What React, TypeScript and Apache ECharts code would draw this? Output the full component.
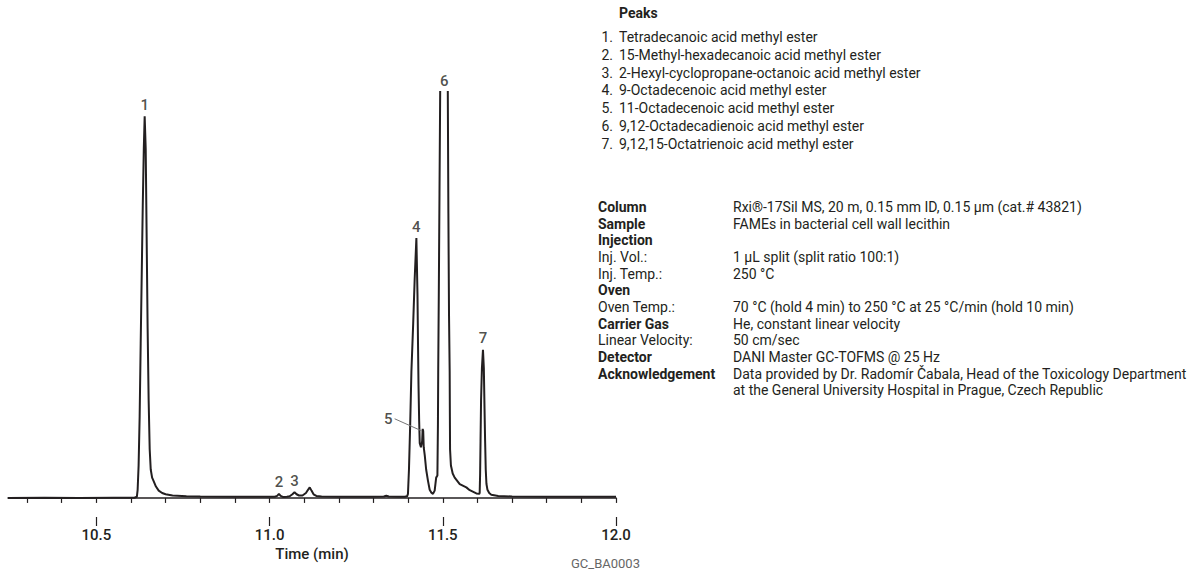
import React, { useEffect, useRef } from "react";
import * as echarts from "echarts";

// ---- data ----
const TRACE_TIME = [
  10.245, 10.35, 10.45, 10.55, 10.61, 10.617,
  10.6192, 10.622, 10.625, 10.628, 10.631, 10.634, 10.637, 10.6395, 10.6425, 10.645, 10.648, 10.651,
  10.654, 10.657, 10.661, 10.666, 10.672, 10.68, 10.69, 10.70, 10.72, 10.76, 10.80, 10.90, 10.98, 11.015,
  11.022, 11.027, 11.032, 11.04, 11.05, 11.058,
  11.066, 11.072, 11.078, 11.085, 11.095, 11.105,
  11.111, 11.116, 11.121, 11.127, 11.135, 11.15, 11.20, 11.30, 11.33, 11.337, 11.344, 11.37, 11.39, 11.397,
  11.3995, 11.4024, 11.4059, 11.4094, 11.4146, 11.4189, 11.4238, 11.427, 11.4285, 11.4299, 11.4318, 11.4335,
  11.437, 11.4405, 11.442, 11.4435, 11.445, 11.448, 11.452, 11.4573, 11.4622, 11.4671, 11.4717, 11.4766, 11.4809,
  11.4845, 11.486, 11.4868, 11.4885, 11.4905, 11.4925, 11.4945, 11.496,
  11.512, 11.5135, 11.5145, 11.5162, 11.518, 11.5199, 11.5205, 11.521, 11.5235, 11.5286, 11.5344, 11.5489,
  11.568, 11.5778, 11.597, 11.6051,
  11.6065, 11.6078, 11.609, 11.6105, 11.613, 11.616, 11.6185, 11.6205, 11.6222, 11.624, 11.626, 11.629, 11.634,
  11.64, 11.66, 11.70, 11.80, 11.90, 12.0,
];
const TRACE_SIGNAL = [
  0.0, 0.05, 0.0, 0.05, 0.05, 0.3,
  2, 8, 20, 38, 55, 72, 86, 94, 86, 66, 42, 24,
  12, 7, 5, 4, 2.8, 1.8, 1.2, 0.9, 0.6, 0.4, 0.35, 0.3, 0.3, 0.3,
  0.5, 1.0, 0.5, 0.2, 0.3, 0.4,
  0.9, 1.4, 0.9, 0.6, 0.6, 1.2,
  2.0, 2.6, 1.8, 0.9, 0.5, 0.35, 0.3, 0.3, 0.35, 0.55, 0.35, 0.3, 0.3, 0.4,
  1, 7, 18, 31, 43, 54, 64, 50, 38, 28, 19, 13.5,
  12.5, 14, 17, 16.5, 12.5, 10.5, 7, 4.2, 2, 1.3, 1.0, 1.8, 5,
  5.5, 18, 31, 50, 75, 100, 130, 150,
  150, 130, 100, 70, 45, 31, 20, 12, 8, 6, 5, 3.4,
  2.6, 1.9, 1.1, 1.0,
  1.2, 6, 14, 24, 32, 36.5, 32, 22, 14, 7, 3.5, 2, 1.2,
  0.8, 0.5, 0.35, 0.3, 0.3, 0.3,
];

const PEAK_LABEL_TEXT = ["1", "2", "3", "4", "6", "7"];
const PEAK_LABEL_TIME = [10.6395, 11.027, 11.072, 11.4238, 11.504, 11.616];
const PEAK_LABEL_SIGNAL = [94, 1.0, 1.4, 64, 100, 36.5];

const PEAK5_LEADER_TIME = [11.361, 11.4395];
const PEAK5_LEADER_SIGNAL = [19.5, 16.5];

const MINOR_TICKS = [10.3, 10.4, 10.5, 10.6, 10.7, 10.8, 10.9, 11.0, 11.1, 11.2, 11.3, 11.4, 11.5, 11.6, 11.7, 11.8, 11.9, 12.0];
const MAJOR_TICKS = [10.5, 11.0, 11.5, 12.0];

const PEAK_NAMES = [
  "Tetradecanoic acid methyl ester",
  "15-Methyl-hexadecanoic acid methyl ester",
  "2-Hexyl-cyclopropane-octanoic acid methyl ester",
  "9-Octadecenoic acid methyl ester",
  "11-Octadecenoic acid methyl ester",
  "9,12-Octadecadienoic acid methyl ester",
  "9,12,15-Octatrienoic acid methyl ester",
];

const COND_LABELS = [
  "Column", "Sample", "Injection", "Inj. Vol.:", "Inj. Temp.:", "Oven", "Oven Temp.:",
  "Carrier Gas", "Linear Velocity:", "Detector", "Acknowledgement", "",
];
const COND_BOLD = [true, true, true, false, false, true, false, true, false, true, true, false];
const COND_VALUES = [
  "Rxi®-17Sil MS, 20 m, 0.15 mm ID, 0.15 µm (cat.# 43821)",
  "FAMEs in bacterial cell wall lecithin",
  "",
  "1 µL split (split ratio 100:1)",
  "250 °C",
  "",
  "70 °C (hold 4 min) to 250 °C at 25 °C/min (hold 10 min)",
  "He, constant linear velocity",
  "50 cm/sec",
  "DANI Master GC-TOFMS @ 25 Hz",
  "Data provided by Dr. Radomír Čabala, Head of the Toxicology Department",
  "at the General University Hospital in Prague, Czech Republic",
];

const FONT = "Roboto, 'Noto Sans', sans-serif";
const INK = "#231f20";

export default function App() {
  const ref = useRef<HTMLDivElement>(null);
  useEffect(() => {
    if (!ref.current) return;
    const chart = echarts.init(ref.current, null, { renderer: "svg" });

    const trace = TRACE_TIME.map((t, i) => [t, TRACE_SIGNAL[i]]);
    const labels: any[] = PEAK_LABEL_TEXT.map((txt, i) => ({
      value: [PEAK_LABEL_TIME[i], PEAK_LABEL_SIGNAL[i]],
      name: txt,
    }));
    labels.push({
      value: [PEAK5_LEADER_TIME[0], PEAK5_LEADER_SIGNAL[0]],
      name: "5",
      label: { position: "left", distance: 2 },
    });

    const graphics: any[] = [];
    graphics.push({
      type: "text", x: 619, y: 6,
      style: { text: "Peaks", font: `bold 14px ${FONT}`, fill: INK, verticalAlign: "top" },
    });
    PEAK_NAMES.forEach((n, i) => {
      const y = 30 + i * 17.8;
      graphics.push({
        type: "text", x: 613, y,
        style: { text: `${i + 1}.`, font: `14px ${FONT}`, fill: INK, align: "right", verticalAlign: "top" },
      });
      graphics.push({
        type: "text", x: 619, y,
        style: { text: n, font: `14px ${FONT}`, fill: INK, verticalAlign: "top" },
      });
    });
    COND_LABELS.forEach((lab, i) => {
      const y = 200 + i * 16.65;
      if (lab)
        graphics.push({
          type: "text", x: 598, y,
          style: { text: lab, font: `${COND_BOLD[i] ? "bold " : ""}14px ${FONT}`, fill: INK, verticalAlign: "top" },
        });
      if (COND_VALUES[i])
        graphics.push({
          type: "text", x: 733, y,
          style: { text: COND_VALUES[i], font: `14px ${FONT}`, fill: INK, verticalAlign: "top" },
        });
    });
    graphics.push({
      type: "text", x: 640, y: 557,
      style: { text: "GC_BA0003", font: `13px ${FONT}`, fill: "#666", align: "right", verticalAlign: "top" },
    });

    chart.setOption({
      animation: false,
      backgroundColor: "#ffffff",
      grid: { left: 8, right: 583, top: 92, bottom: 62, containLabel: false },
      xAxis: [
        {
          type: "value", min: 10.245, max: 12.0,
          axisLine: { show: true, lineStyle: { color: INK, width: 1.5 } },
          axisTick: { show: true, customValues: MINOR_TICKS, length: 5, lineStyle: { color: INK, width: 1.2 } },
          axisLabel: { show: false },
          splitLine: { show: false },
        },
        {
          type: "value", min: 10.245, max: 12.0, position: "bottom",
          axisLine: { show: false },
          axisTick: { show: true, customValues: MAJOR_TICKS, length: 9, lineStyle: { color: INK, width: 1.2 } },
          axisLabel: {
            show: true, customValues: MAJOR_TICKS, margin: 10,
            formatter: (v: number) => v.toFixed(1),
            fontFamily: FONT, fontSize: 15, fontWeight: 500, color: INK,
          },
          splitLine: { show: false },
          name: "Time (min)", nameLocation: "middle", nameGap: 29,
          nameTextStyle: { fontFamily: FONT, fontSize: 15, fontWeight: 500, color: INK },
        },
      ],
      yAxis: {
        type: "value", min: -4.7, max: 100, show: false,
        splitLine: { show: false },
      },
      series: [
        {
          type: "line", data: trace, xAxisIndex: 0, showSymbol: false, symbol: "none",
          lineStyle: { color: INK, width: 2 }, clip: true, silent: true,
        },
        {
          type: "line", xAxisIndex: 0, symbol: "none", silent: true,
          data: PEAK5_LEADER_TIME.map((t, i) => [t, PEAK5_LEADER_SIGNAL[i]]),
          lineStyle: { color: "#777", width: 1 },
        },
        {
          type: "scatter", xAxisIndex: 0, symbolSize: 0, clip: false, silent: true,
          data: labels,
          label: {
            show: true, position: "top", distance: 4,
            formatter: (p: any) => p.name,
            fontFamily: FONT, fontSize: 15, fontWeight: 500, color: INK,
          },
        },
      ],
      graphic: graphics,
    });
    return () => chart.dispose();
  }, []);
  return (
    <div
      ref={ref}
      style={{ position: "fixed", left: 0, top: 0, width: 1199, height: 579, background: "#fff" }}
    />
  );
}
